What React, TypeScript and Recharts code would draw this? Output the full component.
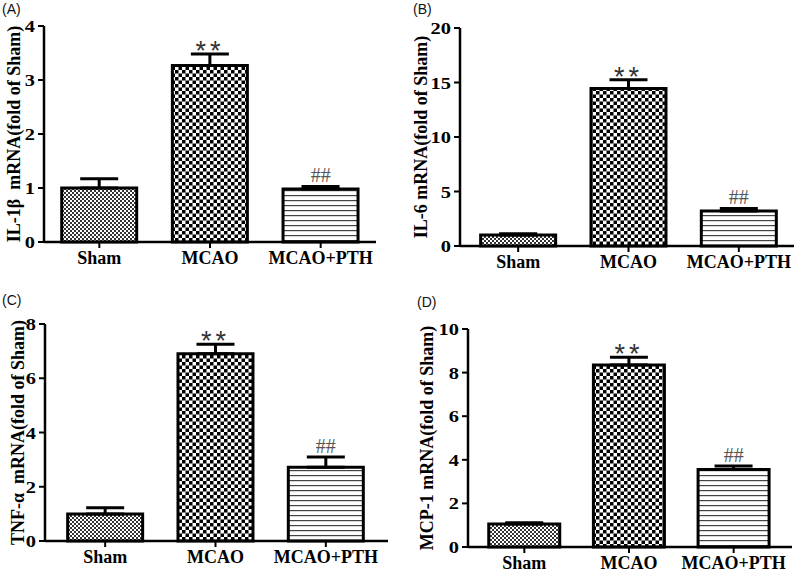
import React from "react";
import { BarChart, Bar, Cell, XAxis, YAxis, ErrorBar, ReferenceDot } from "recharts";

const groups = ["Sham", "MCAO", "MCAO+PTH"];
const marks = ["", "**", "##"];

const il1bMean = [1.0, 3.27, 0.98];
const il1bErr = [0.17, 0.21, 0.05];
const il6Mean = [1.0, 14.45, 3.2];
const il6Err = [0.12, 0.8, 0.25];
const tnfMean = [1.0, 6.9, 2.72];
const tnfErr = [0.23, 0.35, 0.38];
const mcpMean = [1.05, 8.35, 3.55];
const mcpErr = [0.06, 0.35, 0.17];

const il1bTicks = [0, 1, 2, 3, 4];
const il6Ticks = [0, 5, 10, 15, 20];
const tnfTicks = [0, 2, 4, 6, 8];
const mcpTicks = [0, 2, 4, 6, 8, 10];

const barFills = ["url(#patSham)", "url(#patMcao)", "url(#patPth)"];
const serif = '"Liberation Serif", "Times New Roman", serif';
const sans = '"Liberation Sans", Arial, sans-serif';

const XTick = (props: any) => (
  <text x={props.x} y={props.y} dy="0.71em" textAnchor="middle" fill="#000"
    style={{ fontSize: 18, fontWeight: "bold", fontFamily: serif }}>
    {props.payload.value}
  </text>
);

// digits in the source are a little wider than plain Times, so stretch them slightly
const YTick = (props: any) => (
  <text x={0} y={0} dy="0.355em" textAnchor="end" fill="#000"
    transform={`translate(${props.x},${props.y}) scale(1.2,1)`}
    style={{ fontSize: 17, fontWeight: "bold", fontFamily: serif }}>
    {props.payload.value}
  </text>
);

function Panel(p: any) {
  const data = groups.map((g, i) => ({ name: g, value: p.mean[i], err: [0, p.err[i]], mark: marks[i] }));
  const xAxisH = 25;
  const margin = {
    top: p.plotTop - p.top,
    right: 400 - (p.plotRight - p.left),
    bottom: p.h - (p.plotBottom - p.top) - xAxisH,
    left: 0,
  };
  return (
    <div style={{ position: "absolute", left: p.left, top: p.top, width: 400, height: p.h }}>
      <div style={{ position: "absolute", left: p.letterX, top: p.letterY, fontFamily: sans, fontSize: 14, color: "#111", lineHeight: 1 }}>
        {p.letter}
      </div>
      <BarChart width={400} height={p.h} data={data} margin={margin} barCategoryGap="16%">
        <XAxis
          dataKey="name"
          height={xAxisH}
          padding={{ left: p.padL, right: p.padR }}
          axisLine={{ stroke: "#000", strokeWidth: 2.5 }}
          tickLine={{ stroke: "#000", strokeWidth: 2 }}
          tickSize={6}
          tickMargin={3}
          tick={<XTick />}
          interval={0}
        />
        <YAxis
          width={p.axisX - p.left}
          domain={[p.ticks[0], p.ticks[p.ticks.length - 1]]}
          ticks={p.ticks}
          axisLine={{ stroke: "#000", strokeWidth: 2.5 }}
          tickLine={{ stroke: "#000", strokeWidth: 2 }}
          tickSize={6}
          tickMargin={3}
          tick={<YTick />}
          label={{
            value: p.title,
            angle: -90,
            position: "insideLeft",
            offset: p.titleX - p.left,
            fill: "#000",
            fontSize: 18,
            fontWeight: "bold",
            fontFamily: serif,
            style: { textAnchor: "middle" },
          }}
        />
        <Bar dataKey="value" stroke="#000" strokeWidth={3} isAnimationActive={false}>
          {data.map((d, i) => (
            <Cell key={d.name} fill={barFills[i]} />
          ))}
          <ErrorBar dataKey="err" direction="y" width={19} stroke="#000" strokeWidth={3} isAnimationActive={false} />
        </Bar>
        {data.map((d, i) =>
          d.mark ? (
            <ReferenceDot
              key={"m" + i}
              x={d.name}
              y={d.value + d.err[1]}
              r={0}
              fill="none"
              stroke="none"
              label={{
                value: d.mark,
                position: "top",
                offset: d.mark === "**" ? -6 : 4,
                fill: d.mark === "**" ? "#333" : "#555",
                fontSize: d.mark === "**" ? 27 : 20,
                fontFamily: d.mark === "**" ? sans : serif,
                style: { letterSpacing: d.mark === "**" ? 4 : 0 },
              }}
            />
          ) : null
        )}
      </BarChart>
    </div>
  );
}

export default function App() {
  return (
    <div style={{ position: "absolute", left: 0, top: 0, width: 800, height: 573, background: "#fff", overflow: "hidden" }}>
      <svg width={0} height={0} style={{ position: "absolute" }}>
        <defs>
          <pattern id="patSham" patternUnits="userSpaceOnUse" width={4} height={4}>
            <rect width={4} height={4} fill="#fff" />
            <rect x={0} y={0} width={2} height={2} fill="#333" />
            <rect x={2} y={2} width={2} height={2} fill="#333" />
          </pattern>
          <pattern id="patMcao" patternUnits="userSpaceOnUse" width={7} height={7}>
            <rect width={7} height={7} fill="#fff" />
            <rect x={0} y={0} width={3.5} height={3.5} fill="#000" />
            <rect x={3.5} y={3.5} width={3.5} height={3.5} fill="#000" />
          </pattern>
          <pattern id="patPth" patternUnits="userSpaceOnUse" width={5} height={5}>
            <rect width={5} height={5} fill="#fff" />
            <rect x={0} y={0} width={5} height={1.2} fill="#444" />
          </pattern>
        </defs>
      </svg>
      <Panel letter="(A)" letterX={2} letterY={2} title={"IL-1β\u00a0 mRNA(fold of Sham)"} mean={il1bMean} err={il1bErr} ticks={il1bTicks}
        left={0} top={0} h={285} axisX={44} plotRight={376} plotTop={26} plotBottom={242} padL={0} padR={0} titleX={14} />
      <Panel letter="(B)" letterX={13} letterY={2} title="IL-6 mRNA(fold of Sham)" mean={il6Mean} err={il6Err} ticks={il6Ticks}
        left={400} top={0} h={285} axisX={460} plotRight={794} plotTop={28} plotBottom={246} padL={3} padR={0} titleX={421} />
      <Panel letter="(C)" letterX={2} letterY={8} title={"TNF-α\u00a0 mRNA(fold of Sham)"} mean={tnfMean} err={tnfErr} ticks={tnfTicks}
        left={0} top={285} h={288} axisX={45} plotRight={388} plotTop={324} plotBottom={541} padL={5} padR={7} titleX={18} />
      <Panel letter="(D)" letterX={17} letterY={10} title="MCP-1 mRNA(fold of Sham)" mean={mcpMean} err={mcpErr} ticks={mcpTicks}
        left={400} top={285} h={288} axisX={468} plotRight={792} plotTop={329} plotBottom={547} padL={4} padR={6} titleX={427} />
    </div>
  );
}
